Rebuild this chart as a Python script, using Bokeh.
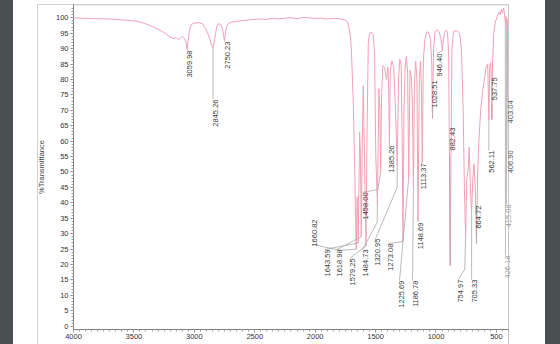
import math
from bokeh.plotting import figure
from bokeh.layouts import column
from bokeh.models import ColumnDataSource, LabelSet, Range1d, FixedTicker, Span
from bokeh.core.properties import value
from bokeh.embed import file_html
from bokeh.resources import INLINE

# ---- spectrum (wavenumber cm-1, %T) ----
spec_w = [4000, 3900, 3800, 3700, 3600, 3500, 3450, 3400, 3350, 3300, 3250, 3200, 3170, 3150, 3130, 3100,
          3080, 3068, 3059.98, 3052, 3040, 3025, 3000, 2960, 2930, 2905, 2880, 2860, 2845.26, 2832, 2815,
          2800, 2780, 2765, 2750.23, 2738, 2720, 2690, 2650, 2600, 2550, 2500, 2450, 2400, 2350, 2300, 2250,
          2200, 2150, 2100, 2050, 2000, 1950, 1900, 1850, 1800, 1760, 1735, 1722, 1707, 1699, 1685, 1672,
          1660.82, 1652, 1643.59, 1632, 1625, 1618.98, 1610, 1602, 1592, 1579.25, 1570, 1560, 1550, 1535,
          1520, 1508, 1498, 1484.73, 1472, 1465, 1458.00, 1450, 1440, 1425, 1410, 1398, 1392, 1385.26, 1378,
          1365, 1350, 1335, 1320.95, 1310, 1300, 1288, 1280, 1273.08, 1265, 1255, 1245, 1235, 1225.69, 1215,
          1205, 1195, 1186.78, 1178, 1168, 1158, 1148.69, 1138, 1128, 1120, 1113.37, 1105, 1092, 1075, 1060,
          1045, 1035, 1028.51, 1020, 1008, 990, 975, 960, 952, 946.40, 938, 922, 905, 895, 888, 882.43, 876,
          868, 855, 830, 805, 790, 775, 765, 754.97, 745, 735, 725, 715, 705.33, 695, 685, 675, 664.72, 655,
          645, 630, 615, 600, 585, 572, 562.11, 555, 548, 542, 537.75, 532, 522, 510, 495, 480, 468, 458, 450,
          440, 432, 426.18, 420, 415.08, 410, 406.90, 405, 403.04, 400]
spec_t = [100.0, 99.8, 99.7, 99.6, 99.3, 99.0, 98.6, 98.0, 97.2, 96.3, 95.2, 93.8, 93.2, 93.6, 92.9, 94.0,
          93.2, 92.0, 89.7, 92.5, 96.0, 97.8, 98.3, 98.4, 98.0, 96.5, 94.0, 91.5, 90.3, 93.0, 97.0,
          98.1, 97.8, 96.0, 92.5, 96.5, 98.2, 98.6, 98.8, 99.1, 99.3, 99.5, 99.6, 99.5, 99.8, 99.6, 99.9,
          100.0, 99.7, 100.1, 100.0, 99.8, 99.9, 99.6, 99.8, 99.7, 99.4, 98.8, 97.0, 93.7, 88.4, 73.0, 50.0,
          25.0, 42.0, 27.0, 63.0, 55.0, 29.0, 60.0, 78.0, 55.0, 26.0, 65.0, 92.0, 95.0, 95.3,
          94.5, 88.0, 55.0, 40.0, 77.0, 70.0, 50.0, 75.0, 84.5, 84.0, 80.0, 84.0, 78.0, 58.6, 83.0,
          86.0, 84.0, 70.0, 52.0, 80.0, 86.5, 85.0, 60.0, 27.4, 70.0, 84.0, 87.5, 82.0, 48.0, 83.0,
          81.0, 72.0, 45.0, 79.0, 86.0, 80.0, 34.2, 80.0, 86.0, 76.0, 53.0, 86.0, 93.0, 95.5, 95.2,
          93.0, 85.0, 67.4, 90.0, 95.5, 96.0, 95.5, 93.5, 91.0, 89.4, 93.5, 96.0, 95.5, 88.0, 50.0, 19.7, 55.0,
          90.0, 95.6, 95.8, 95.0, 90.0, 70.0, 45.0, 29.1, 48.0, 50.0, 58.0, 45.0, 37.0, 48.0, 52.7, 45.0, 26.8, 50.0,
          60.0, 70.0, 76.0, 80.0, 84.0, 85.0, 66.7, 84.0, 85.5, 80.0, 67.0, 85.0, 95.0, 98.5, 100.2, 101.8, 101.0, 102.8, 101.5,
          103.2, 101.0, 98.5, 100.5, 97.0, 99.5, 92.0, 95.0, 73.0, 82.0]

# ---- peak labels ----
peak_names = ["3059.98", "2845.26", "2750.23", "1660.82", "1643.59", "1618.98", "1579.25", "1484.73",
              "1458.00", "1385.26", "1320.95", "1273.08", "1225.69", "1186.78", "1148.69", "1113.37",
              "1028.51", "946.40", "882.43", "754.97", "705.33", "664.72", "562.11", "537.75",
              "426.18", "415.08", "406.90", "403.04"]
peak_w = [3059.98, 2845.26, 2750.23, 1660.82, 1643.59, 1618.98, 1579.25, 1484.73,
          1458.00, 1385.26, 1320.95, 1273.08, 1225.69, 1186.78, 1148.69, 1113.37,
          1028.51, 946.40, 882.43, 754.97, 705.33, 664.72, 562.11, 537.75,
          426.18, 415.08, 406.90, 403.04]
peak_t = [89.7, 90.3, 92.5, 25.0, 27.0, 29.0, 26.0, 40.0,
          50.0, 58.6, 52.0, 27.4, 48.0, 45.0, 34.2, 53.0,
          67.4, 89.4, 19.7, 29.1, 37.0, 26.8, 66.7, 67.0,
          98.5, 97.0, 92.0, 73.0]

# label placement (anchor = upper end of the rotated text, left side)
label_w = [3059.98, 2845.26, 2750.23, 2022, 1920, 1818, 1713, 1608,
           1608, 1385.26, 1501, 1396, 1302, 1194, 1147, 1120,
           1031, 988, 888, 816, 705, 665, 563, 535,
           425, 417, 403, 400]
label_t = [89.4, 73.5, 92.3, 34.6, 24.9, 24.9, 22.0, 24.9,
           43.4, 58.6, 28.4, 26.8, 14.8, 14.8, 33.6, 52.8,
           79.7, 88.4, 64.4, 15.1, 15.1, 39.1, 57.0, 80.7,
           22.9, 39.5, 57.0, 73.2]
label_colors = ["#3a3a3a"] * 24 + ["#9a9a9a", "#9a9a9a", "#555555", "#555555"]

# leader lines: from the label to the peak tip
leader_xs = [[3059.98, 3059.98], [2845.26, 2845.26], [2750.23, 2750.23],
             [2022, 1790, 1660.82], [1920, 1643.59], [1818, 1618.98], [1713, 1579.25],
             [1608, 1487, 1484.73], [1608, 1482, 1458.00], [1385.26, 1385.26],
             [1501, 1320.95, 1320.95], [1396, 1273.08], [1302, 1225.69], [1194, 1186.78],
             [1147, 1148.69], [1120, 1113.37], [1031, 1028.51], [988, 946.40], [888, 882.43],
             [816, 762, 754.97], [705, 705.33], [665, 664.72], [563, 562.11], [535, 537.75],
             [425, 426.18], [417, 415.08], [403, 406.90], [400, 403.04]]
leader_ys = [[89.4, 89.7], [73.5, 90.3], [92.3, 92.5],
             [26.5, 24.6, 25.0], [24.9, 27.0], [24.9, 29.0], [22.0, 26.0],
             [24.9, 33.6, 40.0], [43.4, 44.3, 50.0], [58.6, 58.6],
             [28.4, 45.0, 52.0], [26.8, 27.4], [14.8, 48.0], [14.8, 45.0],
             [33.6, 34.2], [52.8, 53.0], [71.6, 67.4], [88.4, 89.4], [55.6, 19.7],
             [15.1, 18.5, 29.1], [15.1, 37.0], [39.1, 26.8], [57.0, 66.7], [72.0, 67.0],
             [22.9, 98.5], [39.5, 97.0], [57.0, 92.0], [73.2, 73.0]]

y_ticks = list(range(0, 101, 5))
x_ticks = list(range(500, 4001, 500))

FONT = "Liberation Sans"
Y_TOP, Y_BOT = 104.31, -1.07
X_LEFT, X_RIGHT = 4000, 300.6   # frame runs a little past 400 so the edge labels stay visible
X_END = 400

# light grey outer page box drawn by the figure host's background
box_bg = ("linear-gradient(#d2d2d2, #d2d2d2) 4px 4px / 472px 1px no-repeat, "
          "linear-gradient(#d2d2d2, #d2d2d2) 4px 4px / 1px 400px no-repeat, "
          "linear-gradient(#c8c8c8, #c8c8c8) 475px 4px / 1px 400px no-repeat, #ffffff")

p = figure(width=512, height=344, output_backend="svg", toolbar_location=None,
           x_range=Range1d(X_LEFT, X_RIGHT), y_range=Range1d(Y_BOT, Y_TOP),
           min_border_left=40, min_border_right=25, min_border_top=4, min_border_bottom=15,
           background_fill_color=None, border_fill_color=None,
           margin=(0, 0, 0, 33), styles={"background": box_bg})
p.outline_line_color = None
p.xgrid.visible = False
p.ygrid.visible = False

# frame lines: top edge and right edge of the spectrum box
p.add_layout(Span(location=X_END, dimension="height", line_color="#c8c8c8", line_width=1))
p.segment(x0=[X_LEFT], y0=[Y_TOP - 0.15], x1=[X_END], y1=[Y_TOP - 0.15], line_color="#d2d2d2", line_width=1)

src = ColumnDataSource(dict(w=spec_w, t=spec_t))
p.line("w", "t", source=src, line_color="#f2a0b6", line_width=1)

p.multi_line(xs=leader_xs, ys=leader_ys, line_color="#a8a8a8", line_width=0.8)

lab_src = ColumnDataSource(dict(x=label_w, y=label_t, text=peak_names, c=label_colors))
p.add_layout(LabelSet(x="x", y="y", text="text", source=lab_src, angle=math.pi / 2,
                      text_align="right", text_baseline="top", text_color="c",
                      text_font=value(FONT), text_font_size="7.5px"))

for ax in (p.xaxis[0], p.yaxis[0]):
    ax.axis_line_color = "#808080"
    ax.major_tick_line_color = "#808080"
    ax.minor_tick_line_color = "#a0a0a0"
    ax.major_tick_out = 3
    ax.major_tick_in = 0
    ax.minor_tick_out = 2
    ax.minor_tick_in = 0
    ax.major_label_text_font = FONT
    ax.major_label_text_font_size = "7.5px"
    ax.major_label_text_color = "#333333"

p.xaxis.bounds = (X_END, X_LEFT)
p.yaxis.ticker = FixedTicker(ticks=y_ticks, minor_ticks=list(range(0, 104)))
p.xaxis.ticker = FixedTicker(ticks=x_ticks, minor_ticks=list(range(400, 4001, 50)))
p.yaxis.major_label_standoff = 2
p.xaxis.major_label_standoff = 1
p.yaxis.axis_label = "%Transmittance"
p.yaxis.axis_label_text_font = FONT
p.yaxis.axis_label_text_font_size = "7.5px"
p.yaxis.axis_label_text_font_style = "normal"
p.yaxis.axis_label_text_color = "#444444"
p.yaxis.axis_label_standoff = 7

page = column(p, width=560, height=344,
              styles={"background": "linear-gradient(to right, #4a4f52 0px, #4a4f52 13px, #ffffff 13px, "
                                    "#ffffff 545px, #4a4f52 545px, #4a4f52 560px)"})

open("out.html", "w").write(file_html(page, INLINE))
